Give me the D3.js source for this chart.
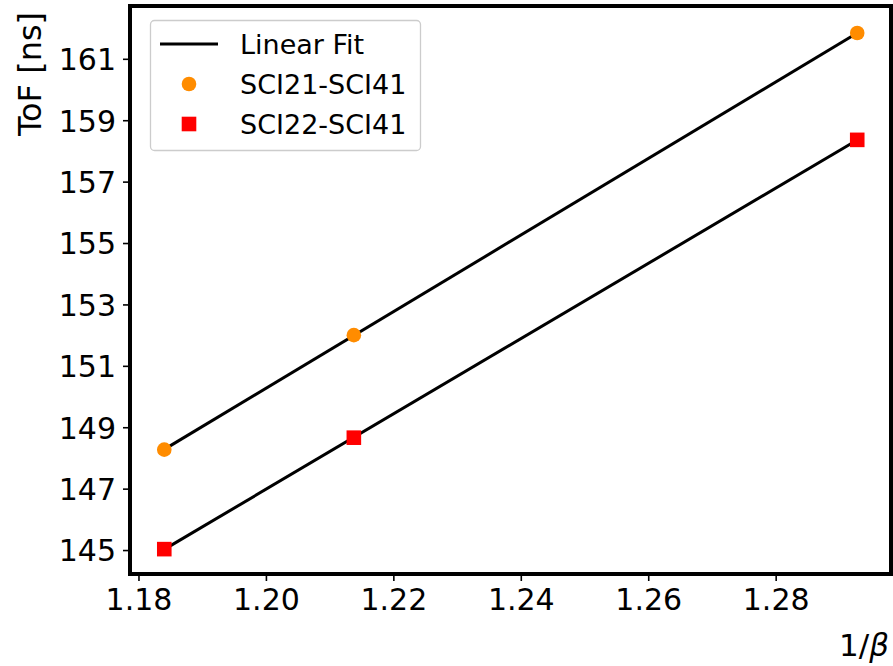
<!DOCTYPE html>
<html>
<head>
<meta charset="utf-8">
<script src="https://cdn.jsdelivr.net/npm/d3@7"></script>
<style>
  body { margin: 0; background: #fff; }
  text { font-family: "DejaVu Sans", sans-serif; fill: #000; }
</style>
</head>
<body>
<div class="chart"></div>
<script>
var width = 893;
var height = 666;

// 1/beta values
var invBeta = [1.18405, 1.2138, 1.2928];
var sci21 = [148.27, 152.0, 161.84];
var sci22 = [145.03, 148.66, 158.36];
var xTicks = [1.18, 1.20, 1.22, 1.24, 1.26, 1.28];
var yTicks = [145, 147, 149, 151, 153, 155, 157, 159, 161];

var margin = { left: 130, right: 891, top: 6, bottom: 574 };

var svg = d3
  .select(".chart")
  .append("svg")
  .attr("width", width)
  .attr("height", height);

var x = d3.scaleLinear().domain([1.17867, 1.2981]).range([margin.left, margin.right]);
var y = d3.scaleLinear().domain([144.22, 162.72]).range([margin.bottom, margin.top]);

// least squares fit
function fit(xs, ys) {
  var mx = d3.mean(xs), my = d3.mean(ys);
  var num = d3.sum(xs, function (v, i) { return (v - mx) * (ys[i] - my); });
  var den = d3.sum(xs, function (v) { return (v - mx) * (v - mx); });
  var b = num / den;
  return { a: my - b * mx, b: b };
}

var xExt = d3.extent(invBeta);
[sci21, sci22].forEach(function (ys) {
  var f = fit(invBeta, ys);
  svg.append("line")
    .attr("x1", x(xExt[0])).attr("y1", y(f.a + f.b * xExt[0]))
    .attr("x2", x(xExt[1])).attr("y2", y(f.a + f.b * xExt[1]))
    .attr("stroke", "#000")
    .attr("stroke-width", 3);
});

svg.append("g").selectAll("circle").data(invBeta).enter().append("circle")
  .attr("cx", function (d) { return x(d); })
  .attr("cy", function (_, i) { return y(sci21[i]); })
  .attr("r", 7.3)
  .attr("fill", "#ff8c00");

svg.append("g").selectAll("rect").data(invBeta).enter().append("rect")
  .attr("x", function (d) { return x(d) - 7.3; })
  .attr("y", function (_, i) { return y(sci22[i]) - 7.3; })
  .attr("width", 14.6)
  .attr("height", 14.6)
  .attr("fill", "#ff0000");

// axes
var xAxis = svg.append("g")
  .attr("transform", "translate(0," + margin.bottom + ")")
  .call(d3.axisBottom(x).tickValues(xTicks).tickFormat(d3.format(".2f")).tickSize(7).tickPadding(8));
var yAxis = svg.append("g")
  .attr("transform", "translate(" + margin.left + ",0)")
  .call(d3.axisLeft(y).tickValues(yTicks).tickFormat(d3.format("d")).tickSize(7).tickPadding(7));

[xAxis, yAxis].forEach(function (ax) {
  ax.select(".domain").remove();
  ax.selectAll(".tick line").attr("stroke", "#000").attr("stroke-width", 1.6);
  ax.selectAll(".tick text")
    .style("font-family", "DejaVu Sans")
    .style("font-size", "30px")
    .attr("fill", "#000");
});
yAxis.selectAll(".tick text").attr("dy", "0.36em");

// frame
svg.append("rect")
  .attr("x", margin.left)
  .attr("y", margin.top)
  .attr("width", margin.right - margin.left)
  .attr("height", margin.bottom - margin.top)
  .attr("fill", "none")
  .attr("stroke", "#000")
  .attr("stroke-width", 4);

// axis labels
svg.append("text")
  .attr("transform", "translate(41,74) rotate(-90)")
  .attr("text-anchor", "middle")
  .style("font-size", "32px")
  .text("ToF [ns]");

var xl = svg.append("text")
  .attr("x", 889)
  .attr("y", 656)
  .attr("text-anchor", "end")
  .style("font-size", "31px");
xl.append("tspan").text("1/");
xl.append("tspan").style("font-style", "italic").text("β");

// legend
var legend = svg.append("g");
legend.append("rect")
  .attr("x", 150.5).attr("y", 20.5)
  .attr("width", 270).attr("height", 130)
  .attr("rx", 4)
  .attr("fill", "#fff").attr("fill-opacity", 0.8)
  .attr("stroke", "#ccc").attr("stroke-width", 1.3);
legend.append("line")
  .attr("x1", 160).attr("x2", 218).attr("y1", 44).attr("y2", 44)
  .attr("stroke", "#000").attr("stroke-width", 3);
legend.append("circle")
  .attr("cx", 189).attr("cy", 84).attr("r", 7.3).attr("fill", "#ff8c00");
legend.append("rect")
  .attr("x", 181.7).attr("y", 116.7).attr("width", 14.6).attr("height", 14.6).attr("fill", "#ff0000");
var labels = ["Linear Fit", "SCI21-SCI41", "SCI22-SCI41"];
legend.selectAll("text.lg").data(labels).enter().append("text")
  .attr("class", "lg")
  .attr("x", 240)
  .attr("y", function (_, i) { return 44 + i * 40; })
  .attr("dy", "0.36em")
  .style("font-size", "27px")
  .text(function (d) { return d; });
</script>
</body>
</html>
